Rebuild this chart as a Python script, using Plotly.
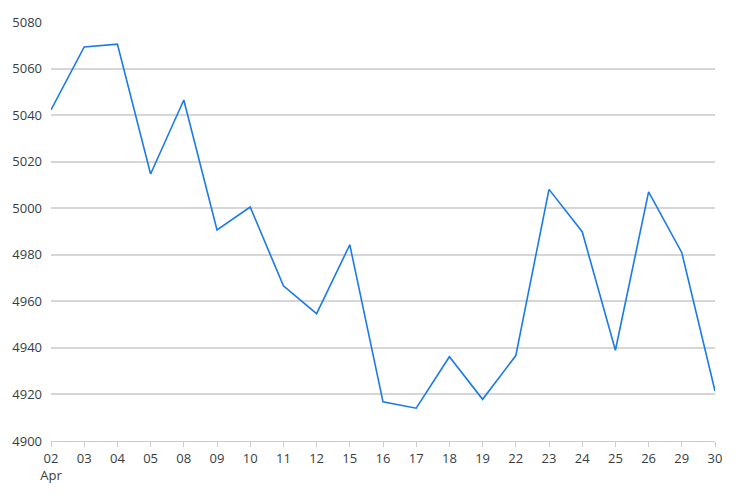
import plotly.graph_objects as go

days = ["02", "03", "04", "05", "08", "09", "10", "11", "12", "15", "16",
        "17", "18", "19", "22", "23", "24", "25", "26", "29", "30"]
tick_labels = ["02<br>Apr"] + days[1:]
values = [5042.2, 5069.3, 5070.5, 5014.7, 5046.5, 4990.7, 5000.5, 4966.7,
          4954.7, 4984.3, 4916.8, 4914.1, 4936.2, 4917.9, 4936.7, 5008.1,
          4989.9, 4939.0, 5007.0, 4980.9, 4921.5]
y_ticks = [4900, 4920, 4940, 4960, 4980, 5000, 5020, 5040, 5060, 5080]

fig = go.Figure(go.Scatter(
    x=days, y=values, mode="lines",
    line=dict(color="#1a7ae9", width=1.6),
    hoverinfo="x+y",
))

fig.update_layout(
    width=739, height=500,
    margin=dict(l=43, r=32, t=14, b=67),
    paper_bgcolor="white", plot_bgcolor="white",
    showlegend=False,
    font=dict(family="Open Sans, sans-serif", size=13, color="#373d3f"),
)
fig.update_xaxes(
    type="category", range=[0, len(days) - 1], automargin=False,
    tickmode="array", tickvals=days, ticktext=tick_labels,
    showgrid=False, showline=True, linecolor="#cccccc", linewidth=1,
    ticks="outside", ticklen=5, tickcolor="#cccccc",
    tickfont=dict(size=13, color="#373d3f"),
    zeroline=False,
)
fig.update_yaxes(
    range=[4900, 5080], tickmode="array", tickvals=y_ticks, automargin=False,
    showgrid=True, gridcolor="#d6d6d6", gridwidth=1.5,
    showline=False, zeroline=False, ticks="", ticklabelstandoff=8,
    tickfont=dict(size=13, color="#373d3f"),
)

fig.write_html("out.html")
